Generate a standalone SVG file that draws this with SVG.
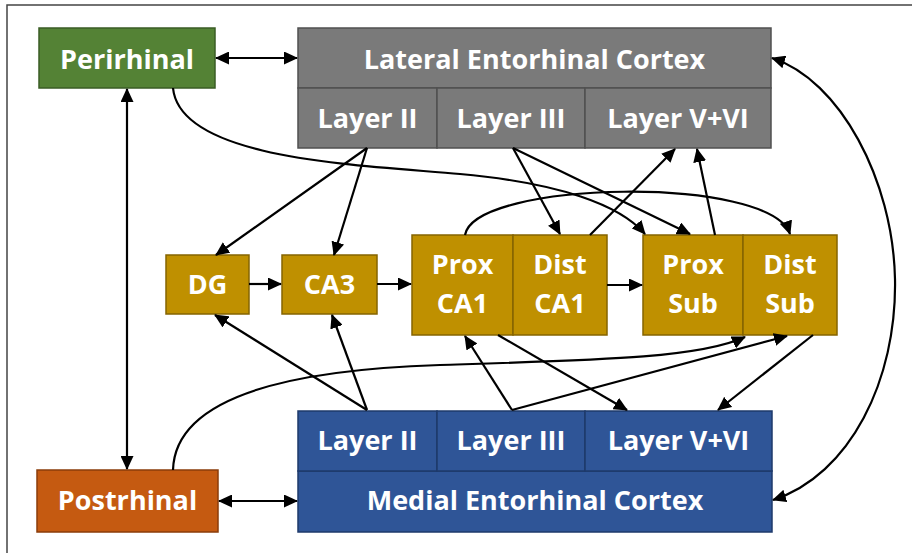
<svg xmlns="http://www.w3.org/2000/svg" width="912" height="553" viewBox="0 0 912 553">
  <defs>
    <marker id="arr" viewBox="0 0 14 13" refX="13" refY="6.5" markerWidth="14" markerHeight="13" markerUnits="userSpaceOnUse" orient="auto-start-reverse">
      <path d="M0,0 L14,6.5 L0,13 z" fill="#000"/>
    </marker>
  </defs>
  <style>
    text { font-family: "Open Sans", "Noto Sans", "Liberation Sans", sans-serif; font-weight: 700; font-size: 27px; fill: #fff; text-anchor: middle; }
    .green { fill: #548235; stroke: #3a5c24; stroke-width: 1.5; }
    .gray { fill: #7a7a7a; stroke: #505050; stroke-width: 1.5; }
    .gold { fill: #BF9000; stroke: #856400; stroke-width: 1.5; }
    .blue { fill: #2F5597; stroke: #1e3a6b; stroke-width: 1.5; }
    .orange { fill: #C55A11; stroke: #8a3d0a; stroke-width: 1.5; }
    .c { fill: none; stroke: #000; stroke-width: 2.2; marker-end: url(#arr); }
    .d { marker-start: url(#arr); }
  </style>
  <rect x="0" y="0" width="912" height="553" fill="#fff"/>
  <path d="M7,553 L7,5 L912,5" fill="none" stroke="#444" stroke-width="1.5"/>

  <g id="perirhinal">
    <rect class="green" x="39" y="28" width="176" height="60"/>
    <text x="127" y="69">Perirhinal</text>
  </g>
  <g id="postrhinal">
    <rect class="orange" x="37" y="470" width="181" height="62"/>
    <text x="127.5" y="510">Postrhinal</text>
  </g>
  <g id="lateral-ec">
    <rect class="gray" x="298" y="28" width="473" height="60"/>
    <text x="534.5" y="69">Lateral Entorhinal Cortex</text>
  </g>
  <g id="lec-layer2">
    <rect class="gray" x="298" y="88" width="139" height="60"/>
    <text x="367.5" y="128">Layer II</text>
  </g>
  <g id="lec-layer3">
    <rect class="gray" x="437" y="88" width="148" height="60"/>
    <text x="511" y="128">Layer III</text>
  </g>
  <g id="lec-layer56">
    <rect class="gray" x="585" y="88" width="186" height="60"/>
    <text x="678" y="128">Layer V+VI</text>
  </g>
  <g id="medial-ec">
    <rect class="blue" x="298" y="471" width="474" height="61"/>
    <text x="535" y="510">Medial Entorhinal Cortex</text>
  </g>
  <g id="mec-layer2">
    <rect class="blue" x="298" y="411" width="139" height="60"/>
    <text x="367.5" y="450">Layer II</text>
  </g>
  <g id="mec-layer3">
    <rect class="blue" x="437" y="411" width="148" height="60"/>
    <text x="511" y="450">Layer III</text>
  </g>
  <g id="mec-layer56">
    <rect class="blue" x="585" y="411" width="187" height="60"/>
    <text x="678.5" y="450">Layer V+VI</text>
  </g>
  <g id="dg">
    <rect class="gold" x="166" y="255" width="83" height="59"/>
    <text x="207.5" y="294">DG</text>
  </g>
  <g id="ca3">
    <rect class="gold" x="282" y="255" width="95" height="59"/>
    <text x="329.5" y="294">CA3</text>
  </g>
  <g id="prox-ca1">
    <rect class="gold" x="412" y="235" width="101" height="100"/>
    <text x="462.5" y="274">Prox</text>
    <text x="462.5" y="313">CA1</text>
  </g>
  <g id="dist-ca1">
    <rect class="gold" x="513" y="235" width="94" height="100"/>
    <text x="560" y="274">Dist</text>
    <text x="560" y="313">CA1</text>
  </g>
  <g id="prox-sub">
    <rect class="gold" x="643" y="235" width="100" height="100"/>
    <text x="693" y="274">Prox</text>
    <text x="693" y="313">Sub</text>
  </g>
  <g id="dist-sub">
    <rect class="gold" x="743" y="235" width="94" height="100"/>
    <text x="790" y="274">Dist</text>
    <text x="790" y="313">Sub</text>
  </g>

  <g id="connectors">
    <path class="c d" d="M216,58 L297,58"/>
    <path class="c d" d="M219,501 L297,501"/>
    <path class="c d" d="M127,89 L127,469"/>
    <path class="c d" d="M772,58 C840,80 893,180 895,279 C897,380 850,475 773,500"/>
    <path class="c" d="M173,88 C180,160 360,165 460,174 C560,183 620,205 645,234"/>
    <path class="c" d="M173,470 C175,400 280,370 440,365 C600,360 700,358 745,337"/>
    <path class="c" d="M367,148 L216,255"/>
    <path class="c" d="M367,148 L334,255"/>
    <path class="c" d="M513,148 L560,234"/>
    <path class="c" d="M513,148 L690,234"/>
    <path class="c" d="M590,235 L675,149"/>
    <path class="c" d="M715,235 L697,149"/>
    <path class="c" d="M249,284 L281,284"/>
    <path class="c" d="M377,284 L411,284"/>
    <path class="c" d="M607,285 L642,285"/>
    <path class="c" d="M465,235 C475,180 770,175 790,234"/>
    <path class="c" d="M367,410 L215,315"/>
    <path class="c" d="M367,410 L332,315"/>
    <path class="c" d="M512,410 L465,336"/>
    <path class="c" d="M512,410 L787,336"/>
    <path class="c" d="M498,335 L627,410"/>
    <path class="c" d="M813,335 L718,410"/>
  </g>
</svg>
